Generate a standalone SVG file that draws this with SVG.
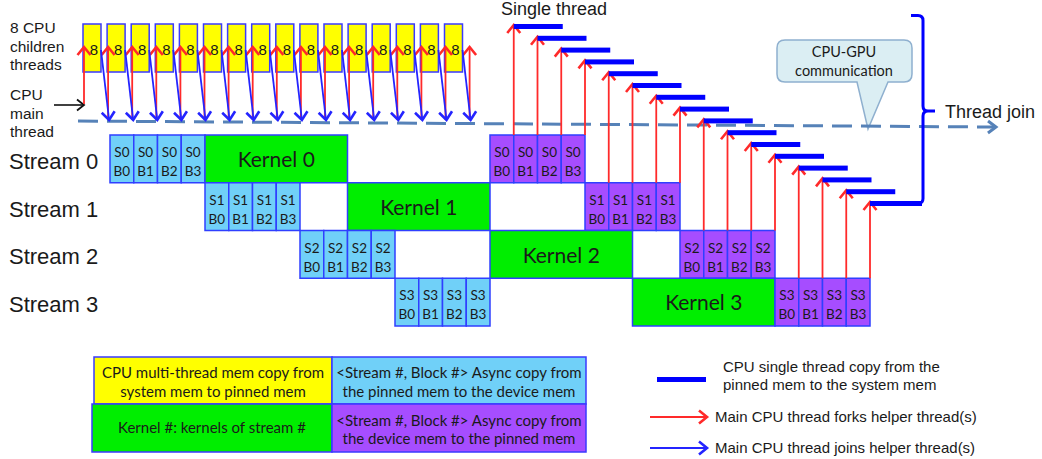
<svg xmlns="http://www.w3.org/2000/svg" width="1042" height="459" viewBox="0 0 1042 459">
<style>
text{font-family:"Liberation Sans",Arial,sans-serif;fill:#1a1a1a}
.cal{font-family:Lato,"Liberation Sans",sans-serif}
.lbl{font-size:15.5px}
.stream{font-size:22px}
.big{font-size:18px}
.y8{font-size:15px;text-anchor:middle}
.bt{font-size:13.5px;text-anchor:middle}
.kt{font-size:21px;text-anchor:middle}
.lg{font-size:15px;text-anchor:middle}
.rl{font-size:15px}
.cb{font-size:14.5px;text-anchor:middle}
.yb{fill:#ffff00;stroke:#3a3aff;stroke-width:1.5}
.h2d rect{fill:#70d0f8;stroke:#2f3fff;stroke-width:1.5}
.d2h rect{fill:#a64dff;stroke:#2f3fff;stroke-width:1.5}
.ker rect{fill:#00ee00;stroke:#2f3fff;stroke-width:1.5}
.bar{fill:#0000ff}
.fork{stroke:#ff2a2a;stroke-width:1.8;fill:none;marker-end:url(#rh)}
.join{stroke:#2424ff;stroke-width:1.8;fill:none;marker-end:url(#bh)}
</style>
<defs>
<marker id="rh" markerUnits="userSpaceOnUse" markerWidth="14" markerHeight="16" refX="10" refY="7" orient="auto" overflow="visible"><path d="M2,0.5 L10,7 L2,13.5" fill="none" stroke="#ff2a2a" stroke-width="2.6"/></marker>
<marker id="bh" markerUnits="userSpaceOnUse" markerWidth="14" markerHeight="16" refX="10" refY="7" orient="auto" overflow="visible"><path d="M2,0.5 L10,7 L2,13.5" fill="none" stroke="#2424ff" stroke-width="2.6"/></marker>
<marker id="kh" markerUnits="userSpaceOnUse" markerWidth="14" markerHeight="14" refX="10" refY="6" orient="auto" overflow="visible"><path d="M3,0.5 L10,6 L3,11.5" fill="none" stroke="#111" stroke-width="1.8"/></marker>
<marker id="dh" markerUnits="userSpaceOnUse" markerWidth="14" markerHeight="16" refX="10" refY="7" orient="auto" overflow="visible"><path d="M2,1 L10,7 L2,13" fill="none" stroke="#5682b8" stroke-width="3"/></marker>
</defs>
<rect width="1042" height="459" fill="#ffffff"/>

<g id="labels">
<text class="lbl" x="10" y="33">8 CPU</text>
<text class="lbl" x="10" y="52">children</text>
<text class="lbl" x="10" y="70">threads</text>
<text class="lbl" x="10" y="100">CPU</text>
<text class="lbl" x="10" y="119">main</text>
<text class="lbl" x="10" y="137">thread</text>
<text class="stream" x="9" y="169">Stream 0</text>
<text class="stream" x="9" y="217">Stream 1</text>
<text class="stream" x="9" y="264">Stream 2</text>
<text class="stream" x="9" y="312">Stream 3</text>
<text class="big" x="501" y="15">Single thread</text>
<text class="big" x="945" y="118">Thread join</text>
</g>

<g id="cpu-threads">
<g id="t0"><rect class="yb" x="83" y="24" width="18" height="48"/><text class="y8" x="94" y="55">8</text></g>
<g id="t1"><rect class="yb" x="107.1" y="24" width="18" height="48"/><text class="y8" x="118.1" y="55">8</text></g>
<g id="t2"><rect class="yb" x="131.2" y="24" width="18" height="48"/><text class="y8" x="142.2" y="55">8</text></g>
<g id="t3"><rect class="yb" x="155.3" y="24" width="18" height="48"/><text class="y8" x="166.3" y="55">8</text></g>
<g id="t4"><rect class="yb" x="179.4" y="24" width="18" height="48"/><text class="y8" x="190.4" y="55">8</text></g>
<g id="t5"><rect class="yb" x="203.5" y="24" width="18" height="48"/><text class="y8" x="214.5" y="55">8</text></g>
<g id="t6"><rect class="yb" x="227.6" y="24" width="18" height="48"/><text class="y8" x="238.6" y="55">8</text></g>
<g id="t7"><rect class="yb" x="251.7" y="24" width="18" height="48"/><text class="y8" x="262.7" y="55">8</text></g>
<g id="t8"><rect class="yb" x="275.8" y="24" width="18" height="48"/><text class="y8" x="286.8" y="55">8</text></g>
<g id="t9"><rect class="yb" x="299.9" y="24" width="18" height="48"/><text class="y8" x="310.9" y="55">8</text></g>
<g id="t10"><rect class="yb" x="324" y="24" width="18" height="48"/><text class="y8" x="335" y="55">8</text></g>
<g id="t11"><rect class="yb" x="348.1" y="24" width="18" height="48"/><text class="y8" x="359.1" y="55">8</text></g>
<g id="t12"><rect class="yb" x="372.2" y="24" width="18" height="48"/><text class="y8" x="383.2" y="55">8</text></g>
<g id="t13"><rect class="yb" x="396.3" y="24" width="18" height="48"/><text class="y8" x="407.3" y="55">8</text></g>
<g id="t14"><rect class="yb" x="420.4" y="24" width="18" height="48"/><text class="y8" x="431.4" y="55">8</text></g>
<g id="t15"><rect class="yb" x="444.5" y="24" width="18" height="48"/><text class="y8" x="455.5" y="55">8</text></g>
</g>

<g id="stream0">
<g class="h2d" id="s0h0"><rect x="110" y="135" width="23.75" height="47.75"/><text class="bt cal" x="121.9" y="157">S0<tspan x="121.9" dy="19">B0</tspan></text></g>
<g class="h2d" id="s0h1"><rect x="133.75" y="135" width="23.75" height="47.75"/><text class="bt cal" x="145.6" y="157">S0<tspan x="145.6" dy="19">B1</tspan></text></g>
<g class="h2d" id="s0h2"><rect x="157.5" y="135" width="23.75" height="47.75"/><text class="bt cal" x="169.4" y="157">S0<tspan x="169.4" dy="19">B2</tspan></text></g>
<g class="h2d" id="s0h3"><rect x="181.25" y="135" width="23.75" height="47.75"/><text class="bt cal" x="193.1" y="157">S0<tspan x="193.1" dy="19">B3</tspan></text></g>
<g class="ker" id="k0"><rect x="205" y="135" width="142.5" height="47.75"/><text class="kt cal" x="276.25" y="167">Kernel 0</text></g>
<g class="d2h" id="s0d0"><rect x="490" y="135" width="23.75" height="47.75"/><text class="bt cal" x="501.9" y="157">S0<tspan x="501.9" dy="19">B0</tspan></text></g>
<g class="d2h" id="s0d1"><rect x="513.75" y="135" width="23.75" height="47.75"/><text class="bt cal" x="525.6" y="157">S0<tspan x="525.6" dy="19">B1</tspan></text></g>
<g class="d2h" id="s0d2"><rect x="537.5" y="135" width="23.75" height="47.75"/><text class="bt cal" x="549.4" y="157">S0<tspan x="549.4" dy="19">B2</tspan></text></g>
<g class="d2h" id="s0d3"><rect x="561.25" y="135" width="23.75" height="47.75"/><text class="bt cal" x="573.1" y="157">S0<tspan x="573.1" dy="19">B3</tspan></text></g>
</g>

<g id="stream1">
<g class="h2d" id="s1h0"><rect x="205" y="182.75" width="23.75" height="47.75"/><text class="bt cal" x="216.9" y="204.75">S1<tspan x="216.9" dy="19">B0</tspan></text></g>
<g class="h2d" id="s1h1"><rect x="228.75" y="182.75" width="23.75" height="47.75"/><text class="bt cal" x="240.6" y="204.75">S1<tspan x="240.6" dy="19">B1</tspan></text></g>
<g class="h2d" id="s1h2"><rect x="252.5" y="182.75" width="23.75" height="47.75"/><text class="bt cal" x="264.4" y="204.75">S1<tspan x="264.4" dy="19">B2</tspan></text></g>
<g class="h2d" id="s1h3"><rect x="276.25" y="182.75" width="23.75" height="47.75"/><text class="bt cal" x="288.1" y="204.75">S1<tspan x="288.1" dy="19">B3</tspan></text></g>
<g class="ker" id="k1"><rect x="347.5" y="182.75" width="142.5" height="47.75"/><text class="kt cal" x="418.75" y="214.75">Kernel 1</text></g>
<g class="d2h" id="s1d0"><rect x="585" y="182.75" width="23.75" height="47.75"/><text class="bt cal" x="596.9" y="204.75">S1<tspan x="596.9" dy="19">B0</tspan></text></g>
<g class="d2h" id="s1d1"><rect x="608.75" y="182.75" width="23.75" height="47.75"/><text class="bt cal" x="620.6" y="204.75">S1<tspan x="620.6" dy="19">B1</tspan></text></g>
<g class="d2h" id="s1d2"><rect x="632.5" y="182.75" width="23.75" height="47.75"/><text class="bt cal" x="644.4" y="204.75">S1<tspan x="644.4" dy="19">B2</tspan></text></g>
<g class="d2h" id="s1d3"><rect x="656.25" y="182.75" width="23.75" height="47.75"/><text class="bt cal" x="668.1" y="204.75">S1<tspan x="668.1" dy="19">B3</tspan></text></g>
</g>

<g id="stream2">
<g class="h2d" id="s2h0"><rect x="300" y="230.5" width="23.75" height="47.75"/><text class="bt cal" x="311.9" y="252.5">S2<tspan x="311.9" dy="19">B0</tspan></text></g>
<g class="h2d" id="s2h1"><rect x="323.75" y="230.5" width="23.75" height="47.75"/><text class="bt cal" x="335.6" y="252.5">S2<tspan x="335.6" dy="19">B1</tspan></text></g>
<g class="h2d" id="s2h2"><rect x="347.5" y="230.5" width="23.75" height="47.75"/><text class="bt cal" x="359.4" y="252.5">S2<tspan x="359.4" dy="19">B2</tspan></text></g>
<g class="h2d" id="s2h3"><rect x="371.25" y="230.5" width="23.75" height="47.75"/><text class="bt cal" x="383.1" y="252.5">S2<tspan x="383.1" dy="19">B3</tspan></text></g>
<g class="ker" id="k2"><rect x="490" y="230.5" width="142.5" height="47.75"/><text class="kt cal" x="561.25" y="262.5">Kernel 2</text></g>
<g class="d2h" id="s2d0"><rect x="680" y="230.5" width="23.75" height="47.75"/><text class="bt cal" x="691.9" y="252.5">S2<tspan x="691.9" dy="19">B0</tspan></text></g>
<g class="d2h" id="s2d1"><rect x="703.75" y="230.5" width="23.75" height="47.75"/><text class="bt cal" x="715.6" y="252.5">S2<tspan x="715.6" dy="19">B1</tspan></text></g>
<g class="d2h" id="s2d2"><rect x="727.5" y="230.5" width="23.75" height="47.75"/><text class="bt cal" x="739.4" y="252.5">S2<tspan x="739.4" dy="19">B2</tspan></text></g>
<g class="d2h" id="s2d3"><rect x="751.25" y="230.5" width="23.75" height="47.75"/><text class="bt cal" x="763.1" y="252.5">S2<tspan x="763.1" dy="19">B3</tspan></text></g>
</g>

<g id="stream3">
<g class="h2d" id="s3h0"><rect x="395" y="278.25" width="23.75" height="47.75"/><text class="bt cal" x="406.9" y="300.25">S3<tspan x="406.9" dy="19">B0</tspan></text></g>
<g class="h2d" id="s3h1"><rect x="418.75" y="278.25" width="23.75" height="47.75"/><text class="bt cal" x="430.6" y="300.25">S3<tspan x="430.6" dy="19">B1</tspan></text></g>
<g class="h2d" id="s3h2"><rect x="442.5" y="278.25" width="23.75" height="47.75"/><text class="bt cal" x="454.4" y="300.25">S3<tspan x="454.4" dy="19">B2</tspan></text></g>
<g class="h2d" id="s3h3"><rect x="466.25" y="278.25" width="23.75" height="47.75"/><text class="bt cal" x="478.1" y="300.25">S3<tspan x="478.1" dy="19">B3</tspan></text></g>
<g class="ker" id="k3"><rect x="632.5" y="278.25" width="142.5" height="47.75"/><text class="kt cal" x="703.75" y="310.25">Kernel 3</text></g>
<g class="d2h" id="s3d0"><rect x="775" y="278.25" width="23.75" height="47.75"/><text class="bt cal" x="786.9" y="300.25">S3<tspan x="786.9" dy="19">B0</tspan></text></g>
<g class="d2h" id="s3d1"><rect x="798.75" y="278.25" width="23.75" height="47.75"/><text class="bt cal" x="810.6" y="300.25">S3<tspan x="810.6" dy="19">B1</tspan></text></g>
<g class="d2h" id="s3d2"><rect x="822.5" y="278.25" width="23.75" height="47.75"/><text class="bt cal" x="834.4" y="300.25">S3<tspan x="834.4" dy="19">B2</tspan></text></g>
<g class="d2h" id="s3d3"><rect x="846.25" y="278.25" width="23.75" height="47.75"/><text class="bt cal" x="858.1" y="300.25">S3<tspan x="858.1" dy="19">B3</tspan></text></g>
</g>

<g id="callout">
<path d="M785,40 H904 Q912,40 912,48 V74 Q912,82 904,82 H888 L868,129 L857,82 H785 Q777,82 777,74 V48 Q777,40 785,40 Z" fill="#dbeef3" stroke="#8fb0cf" stroke-width="1.5"/>
<text class="cb cal" x="844" y="57">CPU-GPU</text>
<text class="cb cal" x="844" y="76">communication</text>
</g>

<g id="connectors">
<line x1="78" y1="121" x2="996" y2="127" stroke="#5682b8" stroke-width="3" stroke-dasharray="20 9" marker-end="url(#dh)"/>
<line x1="54" y1="105" x2="84" y2="105" stroke="#111" stroke-width="1.6" marker-end="url(#kh)"/>
<line class="fork" x1="84" y1="104" x2="84" y2="47"/>
<line class="fork" x1="108.1" y1="120" x2="108.1" y2="47"/>
<line class="fork" x1="132.2" y1="120" x2="132.2" y2="47"/>
<line class="fork" x1="156.3" y1="120" x2="156.3" y2="47"/>
<line class="fork" x1="180.4" y1="120" x2="180.4" y2="47"/>
<line class="fork" x1="204.5" y1="120" x2="204.5" y2="47"/>
<line class="fork" x1="228.6" y1="120" x2="228.6" y2="47"/>
<line class="fork" x1="252.7" y1="120" x2="252.7" y2="47"/>
<line class="fork" x1="276.8" y1="120" x2="276.8" y2="47"/>
<line class="fork" x1="300.9" y1="120" x2="300.9" y2="47"/>
<line class="fork" x1="325" y1="120" x2="325" y2="47"/>
<line class="fork" x1="349.1" y1="120" x2="349.1" y2="47"/>
<line class="fork" x1="373.2" y1="120" x2="373.2" y2="47"/>
<line class="fork" x1="397.3" y1="120" x2="397.3" y2="47"/>
<line class="fork" x1="421.4" y1="120" x2="421.4" y2="47"/>
<line class="fork" x1="445.5" y1="120" x2="445.5" y2="47"/>
<line class="fork" x1="469.6" y1="120" x2="469.6" y2="47"/>
<line class="join" x1="101" y1="50" x2="109.1" y2="120"/>
<line class="join" x1="125.1" y1="50" x2="133.2" y2="120"/>
<line class="join" x1="149.2" y1="50" x2="157.3" y2="120"/>
<line class="join" x1="173.3" y1="50" x2="181.4" y2="120"/>
<line class="join" x1="197.4" y1="50" x2="205.5" y2="120"/>
<line class="join" x1="221.5" y1="50" x2="229.6" y2="120"/>
<line class="join" x1="245.6" y1="50" x2="253.7" y2="120"/>
<line class="join" x1="269.7" y1="50" x2="277.8" y2="120"/>
<line class="join" x1="293.8" y1="50" x2="301.9" y2="120"/>
<line class="join" x1="317.9" y1="50" x2="326" y2="120"/>
<line class="join" x1="342" y1="50" x2="350.1" y2="120"/>
<line class="join" x1="366.1" y1="50" x2="374.2" y2="120"/>
<line class="join" x1="390.2" y1="50" x2="398.3" y2="120"/>
<line class="join" x1="414.3" y1="50" x2="422.4" y2="120"/>
<line class="join" x1="438.4" y1="50" x2="446.5" y2="120"/>
<line class="join" x1="462.5" y1="50" x2="470.6" y2="120"/>
<line class="fork" x1="513.75" y1="135" x2="513.75" y2="25"/>
<line class="fork" x1="537.5" y1="135" x2="537.5" y2="36.8"/>
<line class="fork" x1="561.25" y1="135" x2="561.25" y2="48.6"/>
<line class="fork" x1="585" y1="135" x2="585" y2="60.4"/>
<line class="fork" x1="608.75" y1="182.75" x2="608.75" y2="72.2"/>
<line class="fork" x1="632.5" y1="182.75" x2="632.5" y2="84"/>
<line class="fork" x1="656.25" y1="182.75" x2="656.25" y2="95.8"/>
<line class="fork" x1="680" y1="182.75" x2="680" y2="107.6"/>
<line class="fork" x1="703.75" y1="230.5" x2="703.75" y2="119.4"/>
<line class="fork" x1="727.5" y1="230.5" x2="727.5" y2="131.2"/>
<line class="fork" x1="751.25" y1="230.5" x2="751.25" y2="143"/>
<line class="fork" x1="775" y1="230.5" x2="775" y2="154.8"/>
<line class="fork" x1="798.75" y1="278.25" x2="798.75" y2="166.6"/>
<line class="fork" x1="822.5" y1="278.25" x2="822.5" y2="178.4"/>
<line class="fork" x1="846.25" y1="278.25" x2="846.25" y2="190.2"/>
<line class="fork" x1="870" y1="278.25" x2="870" y2="202"/>
</g>

<g id="single-thread-copies">
<rect class="bar" x="513.75" y="24" width="49" height="5"/>
<rect class="bar" x="537.5" y="35.8" width="49" height="5"/>
<rect class="bar" x="561.25" y="47.6" width="49" height="5"/>
<rect class="bar" x="585" y="59.4" width="49" height="5"/>
<rect class="bar" x="608.75" y="71.2" width="49" height="5"/>
<rect class="bar" x="632.5" y="83" width="49" height="5"/>
<rect class="bar" x="656.25" y="94.8" width="49" height="5"/>
<rect class="bar" x="680" y="106.6" width="49" height="5"/>
<rect class="bar" x="703.75" y="118.4" width="49" height="5"/>
<rect class="bar" x="727.5" y="130.2" width="49" height="5"/>
<rect class="bar" x="751.25" y="142" width="49" height="5"/>
<rect class="bar" x="775" y="153.8" width="49" height="5"/>
<rect class="bar" x="798.75" y="165.6" width="49" height="5"/>
<rect class="bar" x="822.5" y="177.4" width="49" height="5"/>
<rect class="bar" x="846.25" y="189.2" width="49" height="5"/>
<rect class="bar" x="870" y="201" width="52" height="5"/>
</g>

<g id="thread-join-bracket">
<path d="M911,15.5 H918 Q923,15.5 923,20.5 V106 Q923,111 928,111 H935 M928,111 Q923,111 923,116 V198.5 Q923,203.5 918,203.5 H914" fill="none" stroke="#0000ff" stroke-width="3"/>
</g>

<g id="legend">
<g id="lg-yellow"><rect x="94" y="357" width="238" height="47" fill="#ffff00" stroke="#3a3aff" stroke-width="1.5"/><text class="lg cal" x="213" y="378">CPU multi-thread mem copy from</text><text class="lg cal" x="213" y="397">system mem to pinned mem</text></g>
<g id="lg-blue"><rect x="332" y="357" width="254" height="47" fill="#70d0f8" stroke="#3a3aff" stroke-width="1.5"/><text class="lg cal" x="459" y="378">&lt;Stream #, Block #&gt; Async copy from</text><text class="lg cal" x="459" y="397">the pinned mem to the device mem</text></g>
<g id="lg-green"><rect x="92" y="404" width="240" height="48" fill="#00ee00" stroke="#3a3aff" stroke-width="1.5"/><text class="lg cal" x="212" y="433">Kernel #: kernels of stream #</text></g>
<g id="lg-purple"><rect x="332" y="404" width="254" height="48" fill="#a64dff" stroke="#3a3aff" stroke-width="1.5"/><text class="lg cal" x="459" y="426">&lt;Stream #, Block #&gt; Async copy from</text><text class="lg cal" x="459" y="444">the device mem to the pinned mem</text></g>
<g id="lg-bar"><rect class="bar" x="657" y="377" width="49" height="5"/><text class="rl" x="723" y="372">CPU single thread copy from the</text><text class="rl" x="723" y="390">pinned mem to the system mem</text></g>
<g id="lg-fork"><line class="fork" x1="650" y1="417" x2="707" y2="417"/><text class="rl" x="715" y="422">Main CPU thread forks helper thread(s)</text></g>
<g id="lg-join"><line class="join" x1="650" y1="448" x2="707" y2="448"/><text class="rl" x="715" y="453">Main CPU thread joins helper thread(s)</text></g>
</g>
</svg>
